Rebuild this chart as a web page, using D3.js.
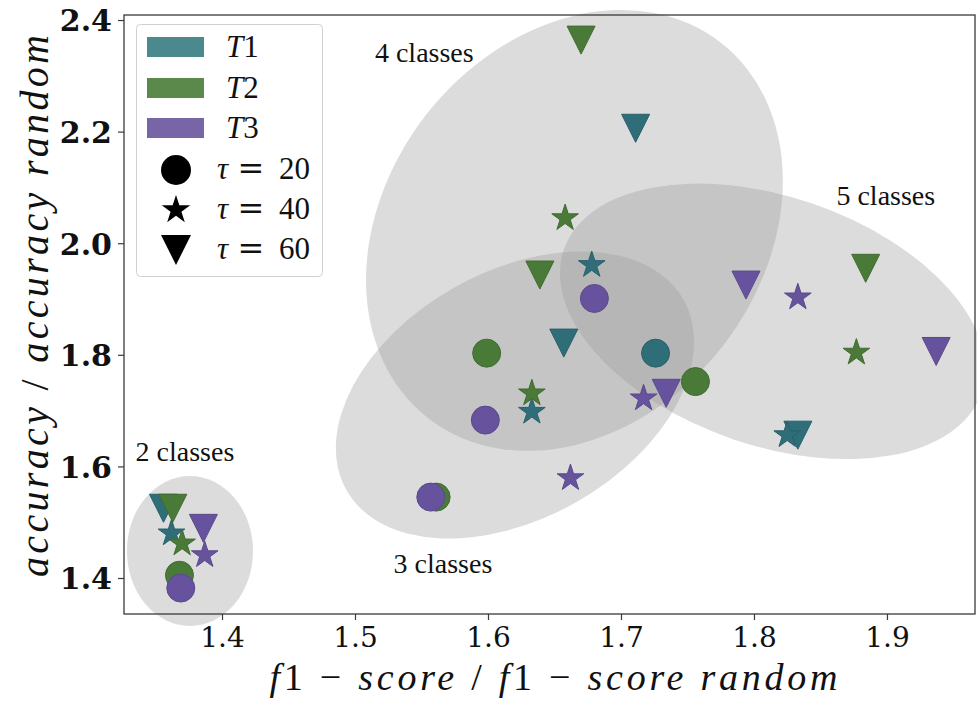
<!DOCTYPE html>
<html><head><meta charset="utf-8">
<script src="https://cdn.jsdelivr.net/npm/d3@7/dist/d3.min.js"></script>
<style>html,body{margin:0;padding:0;background:#fff;}svg{display:block;}</style>
</head><body>
<svg id="chart" width="977" height="701"></svg>
<script>
// ---------- data ----------
const tasks = ["T1", "T2", "T3"];
const taus = [20, 40, 60];
const xTicks = [1.4, 1.5, 1.6, 1.7, 1.8, 1.9];
const yTicks = [1.4, 1.6, 1.8, 2.0, 2.2, 2.4];

// points (drawn in this order: T1, then T2, then T3)
const pointTask = ["T1","T1","T1","T1","T1","T1","T1","T1","T1",
                   "T2","T2","T2","T2","T2","T2","T2","T2","T2","T2","T2","T2",
                   "T3","T3","T3","T3","T3","T3","T3","T3","T3","T3","T3","T3"];
const pointTau  = [60,40, 60,40, 60,40,20, 60,40,
                   60,40,20, 60,40,20, 60,40,20, 60,40,20,
                   60,40,20, 60,40,20, 60,40,20, 60,40,20];
const pointX = [1.356,1.362, 1.657,1.633, 1.711,1.678,1.726, 1.833,1.825,
                1.363,1.370,1.368, 1.639,1.633,1.599, 1.670,1.658,1.561, 1.884,1.877,1.756,
                1.386,1.387,1.369, 1.734,1.662,1.598, 1.794,1.717,1.557, 1.937,1.833,1.680];
const pointY = [1.525,1.480, 1.821,1.698, 2.206,1.961,1.803, 1.656,1.656,
                1.525,1.462,1.405, 1.943,1.731,1.803, 2.364,2.045,1.545, 1.955,1.804,1.752,
                1.489,1.441,1.382, 1.731,1.579,1.683, 1.925,1.722,1.545, 1.806,1.903,1.901];

// class ellipses (center in data units, semi-axes in x / y data units, tilt in degrees)
const ellipseName = ["2 classes", "3 classes", "4 classes", "5 classes"];
const ellipseCx = [1.3759, 1.6203, 1.6650, 1.8140];
const ellipseCy = [1.4484, 1.7280, 2.0230, 1.8600];
const ellipseW  = [0.0474, 0.1455, 0.1790, 0.1660];
const ellipseH  = [0.1344, 0.2213, 0.3370, 0.2228];
const ellipseAngle = [0, 29.4, 52, -19.0];
const labelX = [1.335, 1.529, 1.515, 1.862];
const labelY = [1.610, 1.409, 2.325, 2.068];

// ---------- style ----------
const markerColor = {T1: "#2f6e79", T2: "#4a7a38", T3: "#67539d"};
const markerEdge  = {T1: "#28606a", T2: "#416b31", T3: "#5a498a"};
const patchColor  = {T1: "#4c898f", T2: "#5a894b", T3: "#7765a8"};

const svg = d3.select("#chart");
const W = 977, H = 701;
const m = {left: 124, right: 2, top: 15, bottom: 87};

const x = d3.scaleLinear().domain([1.3263, 1.9662]).range([m.left, W - m.right]);
const y = d3.scaleLinear().domain([1.3355, 2.409]).range([H - m.bottom, m.top]);

const MS = 28; // marker size
function markerPath(tau, s) {
  const h = s / 2;
  if (tau === 20) return d3.symbol(d3.symbolCircle, Math.PI * h * h)();
  if (tau === 40) return d3.symbol(d3.symbolStar, (h * h) / 0.8908130915292852)();
  return `M0,${h}L${-h},${-h}L${h},${-h}Z`;
}

// ellipses
const eg = svg.append("g");
ellipseName.forEach((n, i) => {
  const cx = x(ellipseCx[i]), cy = y(ellipseCy[i]);
  const rx = x(ellipseCx[i] + ellipseW[i]) - cx;
  const ry = cy - y(ellipseCy[i] + ellipseH[i]);
  eg.append("ellipse")
    .attr("cx", cx).attr("cy", cy).attr("rx", rx).attr("ry", ry)
    .attr("transform", `rotate(${-ellipseAngle[i]},${cx},${cy})`)
    .attr("fill", "#999").attr("fill-opacity", 0.34);
});

// axes frame
const frame = svg.append("g");
frame.append("rect")
  .attr("x", m.left).attr("y", m.top)
  .attr("width", W - m.right - m.left).attr("height", H - m.bottom - m.top)
  .attr("fill", "none").attr("stroke", "#3a3a3a").attr("stroke-width", 1.3);

const xAxis = svg.append("g").attr("transform", `translate(0,${H - m.bottom})`)
  .call(d3.axisBottom(x).tickValues(xTicks).tickFormat(d3.format(".1f")).tickSize(6).tickPadding(7));
xAxis.select(".domain").remove();
xAxis.selectAll("line").attr("stroke", "#3a3a3a").attr("stroke-width", 1.2);
xAxis.selectAll("text").attr("font-family", "DejaVu Serif").attr("font-size", 28)
  .attr("fill", "#111").attr("dy", "0.71em");

const yAxis = svg.append("g").attr("transform", `translate(${m.left},0)`)
  .call(d3.axisLeft(y).tickValues(yTicks).tickFormat(d3.format(".1f")).tickSize(6).tickPadding(6));
yAxis.select(".domain").remove();
yAxis.selectAll("line").attr("stroke", "#3a3a3a").attr("stroke-width", 1.2);
yAxis.selectAll("text").attr("font-family", "DejaVu Serif").attr("font-weight", "bold")
  .attr("font-size", 30).attr("fill", "#111").attr("dy", "0.36em");

// points
const pts = pointX.map((v, i) => ({x: v, y: pointY[i], task: pointTask[i], tau: pointTau[i]}));
svg.append("g").selectAll("path").data(pts).join("path")
  .attr("d", d => markerPath(d.tau, MS))
  .attr("transform", d => `translate(${x(d.x)},${y(d.y)})`)
  .attr("fill", d => markerColor[d.task])
  .attr("stroke", d => markerEdge[d.task]).attr("stroke-width", 1);

// cluster labels
svg.append("g").selectAll("text").data(ellipseName).join("text")
  .attr("x", (d, i) => x(labelX[i])).attr("y", (d, i) => y(labelY[i]))
  .attr("font-family", "Liberation Serif").attr("font-size", 28).attr("fill", "#111")
  .text(d => d);

// axis labels
const xl = svg.append("text")
  .attr("x", (m.left + W - m.right) / 2 + 4).attr("y", 690)
  .attr("text-anchor", "middle").attr("font-family", "Liberation Serif").attr("font-size", 38)
  .attr("fill", "#111").attr("textLength", 568).attr("lengthAdjust", "spacing");
[["f", 1], ["1", 0], [" − ", 0], ["score", 1], [" / ", 0], ["f", 1], ["1", 0], [" − ", 0], ["score random", 1]]
  .forEach(([t, it]) => xl.append("tspan").attr("font-style", it ? "italic" : "normal").text(t));

const yl = svg.append("text")
  .attr("transform", `translate(48,306) rotate(-90)`)
  .attr("text-anchor", "middle").attr("font-family", "Liberation Serif").attr("font-size", 40)
  .attr("fill", "#111").attr("textLength", 542).attr("lengthAdjust", "spacing");
[["accuracy", 1], [" / ", 0], ["accuracy random", 1]]
  .forEach(([t, it]) => yl.append("tspan").attr("font-style", it ? "italic" : "normal").text(t));

// legend
const lg = svg.append("g");
lg.append("rect").attr("x", 136.5).attr("y", 24.5).attr("width", 186).attr("height", 252)
  .attr("rx", 4).attr("fill", "#fff").attr("fill-opacity", 0.85)
  .attr("stroke", "#d0d0d0").attr("stroke-width", 1);
const rowY = [47, 88, 128, 170, 210, 250];
tasks.forEach((t, i) => {
  lg.append("rect").attr("x", 147).attr("y", rowY[i] - 10).attr("width", 57).attr("height", 20)
    .attr("fill", patchColor[t]);
  const tx = lg.append("text").attr("x", 226).attr("y", rowY[i] + 10)
    .attr("font-family", "Liberation Serif").attr("font-size", 31).attr("fill", "#111");
  tx.append("tspan").attr("font-style", "italic").text(t[0]);
  tx.append("tspan").text(t.slice(1));
});
taus.forEach((tau, j) => {
  const cy = rowY[3 + j];
  lg.append("path").attr("d", markerPath(tau, tau === 60 ? 30 : MS + 2))
    .attr("transform", `translate(176,${cy})`).attr("fill", "#000");
  lg.append("text").attr("x", 217).attr("y", cy + 9).attr("font-family", "Liberation Serif")
    .attr("font-size", 31).attr("font-style", "italic").attr("fill", "#111").text("τ");
  lg.append("text").attr("x", 251).attr("y", cy + 9).attr("text-anchor", "middle")
    .attr("font-family", "DejaVu Serif").attr("font-size", 32).attr("fill", "#111").text("=");
  lg.append("text").attr("x", 279).attr("y", cy + 9).attr("font-family", "Liberation Serif")
    .attr("font-size", 31).attr("fill", "#111").text(String(tau));
});
</script>
</body></html>
